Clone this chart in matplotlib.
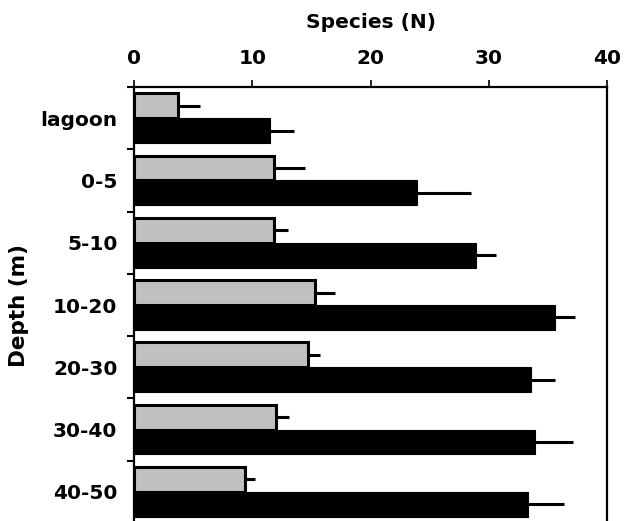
import matplotlib
matplotlib.use("Agg")
import matplotlib.pyplot as plt
import numpy as np

categories = ["lagoon", "0-5", "5-10", "10-20", "20-30", "30-40", "40-50"]
gray_values = [3.7, 11.8, 11.8, 15.3, 14.7, 12.0, 9.4]
gray_err = [1.9, 2.7, 1.25, 1.7, 1.0, 1.15, 0.8]
black_values = [11.5, 23.9, 28.9, 35.6, 33.6, 33.9, 33.3]
black_err = [2.05, 4.6, 1.7, 1.7, 2.0, 3.2, 3.1]
x_ticks = [0, 10, 20, 30, 40]

plt.rcParams['font.family'] = ['DejaVu Sans']
plt.rcParams['font.weight'] = 'bold'

fig = plt.figure(figsize=(6.24, 5.21), dpi=100)
ax = fig.add_axes([134/624, 1 - 523/521, (607-134)/624, (523-87)/521])

y = np.arange(len(categories))
h = 0.4
ax.barh(y - 0.2, gray_values, height=h, color='#c0c0c0', edgecolor='black', linewidth=2.2, zorder=2)
ax.barh(y + 0.2, black_values, height=h, color='black', edgecolor='black', linewidth=0.8, zorder=2)

# one-sided error bars
ax.errorbar(gray_values, y - 0.2, xerr=[np.zeros(len(gray_err)), gray_err], fmt='none',
            ecolor='black', elinewidth=2.2, capsize=0, zorder=1)
ax.errorbar(black_values, y + 0.2, xerr=[np.zeros(len(black_err)), black_err], fmt='none',
            ecolor='black', elinewidth=2.2, capsize=0, zorder=1)

ax.set_xlim(0, 40)
ax.set_ylim(len(categories) - 0.5, -0.5)
ax.xaxis.tick_top()
ax.xaxis.set_label_position('top')
ax.set_xticks(x_ticks)
ax.set_xticklabels([str(t) for t in x_ticks], fontsize=14.5, fontweight='bold')
ax.set_yticks(y)
ax.set_yticklabels(categories, fontsize=14.5, fontweight='bold')
ax.set_yticks(np.arange(len(categories) + 1) - 0.5, minor=True)
ax.tick_params(axis='y', which='major', length=0, pad=12)
ax.tick_params(axis='y', which='minor', length=5, width=1.5, direction='out')
ax.tick_params(axis='x', which='major', length=5, width=1.2, direction='out', pad=9)

ax.set_xlabel('Species (N)', fontsize=14.5, fontweight='bold', labelpad=14.5)
ax.set_ylabel('Depth (m)', fontsize=15.5, fontweight='bold', labelpad=8)

for s in ax.spines.values():
    s.set_linewidth(1.6)

fig.savefig('out.png', dpi=100)
